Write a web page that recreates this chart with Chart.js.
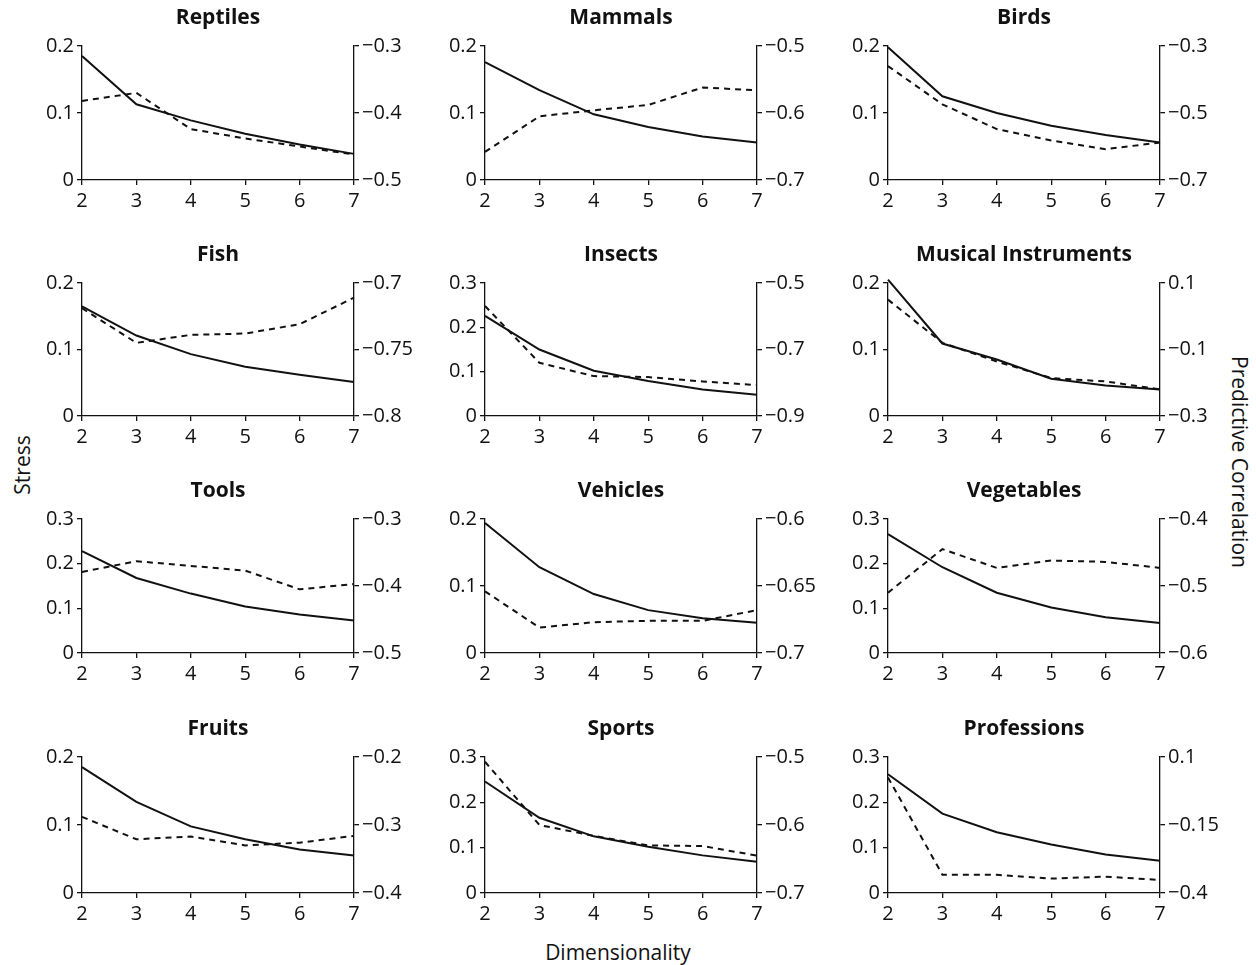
<!DOCTYPE html>
<html lang="en">
<head>
<meta charset="UTF-8">
<title>Stress and Predictive Correlation by Dimensionality</title>
<script src="https://cdn.jsdelivr.net/npm/chart.js"></script>
<style>
  body { margin: 0; background: white; font-family: 'Open Sans', sans-serif; }
  #page { position: relative; width: 1256px; height: 965px; overflow: hidden; background: white; }
  canvas { position: absolute; }
  .axis-label { position: absolute; font-size: 21px; color: #111; white-space: nowrap; transform-origin: center; }
</style>
</head>
<body>
<div id="page">
  <div class="axis-label" style="left:22px; top:465px; transform:translate(-50%,-50%) rotate(-90deg);">Stress</div>
  <div class="axis-label" style="left:1240px; top:462px; transform:translate(-50%,-50%) rotate(90deg);">Predictive Correlation</div>
  <div class="axis-label" style="left:618px; top:952px; transform:translate(-50%,-50%);">Dimensionality</div>
</div>
<script>
const dimensions = ['2', '3', '4', '5', '6', '7'];
const categories = ['Reptiles', 'Mammals', 'Birds', 'Fish', 'Insects', 'Musical Instruments',
                    'Tools', 'Vehicles', 'Vegetables', 'Fruits', 'Sports', 'Professions'];
const stressMax = [0.2, 0.2, 0.2, 0.2, 0.3, 0.2, 0.3, 0.2, 0.3, 0.2, 0.3, 0.3];
const stressValues = [
  [0.185, 0.113, 0.089, 0.069, 0.053, 0.039],
  [0.176, 0.134, 0.098, 0.079, 0.065, 0.056],
  [0.198, 0.125, 0.100, 0.081, 0.067, 0.056],
  [0.165, 0.121, 0.093, 0.074, 0.062, 0.051],
  [0.226, 0.150, 0.102, 0.079, 0.060, 0.048],
  [0.205, 0.109, 0.085, 0.056, 0.046, 0.040],
  [0.228, 0.168, 0.133, 0.104, 0.086, 0.073],
  [0.194, 0.128, 0.088, 0.064, 0.052, 0.045],
  [0.266, 0.192, 0.135, 0.102, 0.080, 0.067],
  [0.185, 0.134, 0.098, 0.079, 0.064, 0.055],
  [0.246, 0.166, 0.125, 0.102, 0.083, 0.069],
  [0.262, 0.175, 0.134, 0.107, 0.085, 0.071]
];
const correlationTicks = [
  [-0.5, -0.4, -0.3], [-0.7, -0.6, -0.5], [-0.7, -0.5, -0.3],
  [-0.8, -0.75, -0.7], [-0.9, -0.7, -0.5], [-0.3, -0.1, 0.1],
  [-0.5, -0.4, -0.3], [-0.7, -0.65, -0.6], [-0.6, -0.5, -0.4],
  [-0.4, -0.3, -0.2], [-0.7, -0.6, -0.5], [-0.4, -0.15, 0.1]
];
const correlationValues = [
  [-0.382, -0.370, -0.424, -0.438, -0.450, -0.462],
  [-0.658, -0.605, -0.596, -0.588, -0.562, -0.566],
  [-0.360, -0.474, -0.548, -0.582, -0.608, -0.588],
  [-0.719, -0.745, -0.739, -0.738, -0.731, -0.711],
  [-0.569, -0.740, -0.780, -0.783, -0.796, -0.807],
  [0.050, -0.080, -0.136, -0.186, -0.196, -0.220],
  [-0.379, -0.363, -0.370, -0.377, -0.405, -0.397],
  [-0.654, -0.681, -0.677, -0.676, -0.676, -0.668],
  [-0.510, -0.445, -0.473, -0.462, -0.464, -0.473],
  [-0.288, -0.321, -0.317, -0.330, -0.326, -0.316],
  [-0.507, -0.600, -0.616, -0.630, -0.631, -0.645],
  [0.025, -0.333, -0.333, -0.347, -0.340, -0.352]
];

// layout of the 4x3 grid (plot area positions in page pixels)
const plotLefts = [82, 485, 888];
const plotWidth = 272;
const plotTops = [46, 283, 519, 757];
const plotHeights = [134, 133, 134, 136];
const SIDE_W = 68;     // width of each y axis box
const TITLE_H = 38;    // title box above plot area
const TITLE_SIZE = 21;
const X_H = 36;        // x axis box below plot area
const FONT = "'Open Sans', sans-serif";
const TICK_SIZE = 20;
const INK = '#111';

function fmt(v) {
  const s = String(parseFloat(Math.abs(v).toFixed(3)));
  return v < 0 ? '\u2212' + s : s;
}

function axisStyle(extra) {
  return Object.assign({
    grid: { drawOnChartArea: false, drawTicks: true, tickLength: 5, color: INK, lineWidth: 1.3 },
    border: { display: true, color: INK, width: 1.3 }
  }, extra);
}

function buildPanel(i) {
  const col = i % 3, row = Math.floor(i / 3);
  const canvas = document.createElement('canvas');
  canvas.width = SIDE_W * 2 + plotWidth;
  canvas.height = TITLE_H + plotHeights[row] + X_H;
  canvas.style.left = (plotLefts[col] - SIDE_W) + 'px';
  canvas.style.top = (plotTops[row] - TITLE_H) + 'px';
  document.getElementById('page').appendChild(canvas);

  const cTicks = correlationTicks[i];
  const sMax = stressMax[i];
  const sTicks = [];
  for (let k = 0; k <= Math.round(sMax * 10); k++) sTicks.push(k / 10);

  new Chart(canvas, {
    type: 'line',
    data: {
      labels: dimensions,
      datasets: [
        { label: 'Stress', data: stressValues[i], yAxisID: 'y', borderColor: INK, borderWidth: 2,
          pointRadius: 0, tension: 0, fill: false, clip: false },
        { label: 'Predictive Correlation', data: correlationValues[i], yAxisID: 'y2', borderColor: INK,
          borderWidth: 2, borderDash: [6, 5], pointRadius: 0, tension: 0, fill: false, clip: false }
      ]
    },
    options: {
      responsive: false,
      animation: false,
      events: [],
      layout: { padding: 0 },
      plugins: {
        legend: { display: false },
        tooltip: { enabled: false },
        title: {
          display: true, text: categories[i], color: INK,
          font: { family: FONT, size: TITLE_SIZE, weight: 'bold', lineHeight: 1 },
          padding: { top: 0, bottom: TITLE_H - TITLE_SIZE }
        }
      },
      scales: {
        x: axisStyle({
          ticks: { color: INK, font: { family: FONT, size: TICK_SIZE }, padding: 4, maxRotation: 0, autoSkip: false },
          afterFit: s => { s.height = X_H; }
        }),
        y: axisStyle({
          position: 'left', min: 0, max: sMax,
          afterBuildTicks: s => { s.ticks = sTicks.map(v => ({ value: v })); },
          ticks: { color: INK, font: { family: FONT, size: TICK_SIZE }, padding: 3, callback: v => fmt(v) },
          afterFit: s => { s.width = SIDE_W; }
        }),
        y2: axisStyle({
          position: 'right', min: cTicks[0], max: cTicks[2],
          afterBuildTicks: s => { s.ticks = cTicks.map(v => ({ value: v })); },
          ticks: { color: INK, font: { family: FONT, size: TICK_SIZE }, padding: 3, callback: v => fmt(v) },
          afterFit: s => { s.width = SIDE_W; }
        })
      }
    }
  });
}

for (let i = 0; i < categories.length; i++) buildPanel(i);
</script>
</body>
</html>
